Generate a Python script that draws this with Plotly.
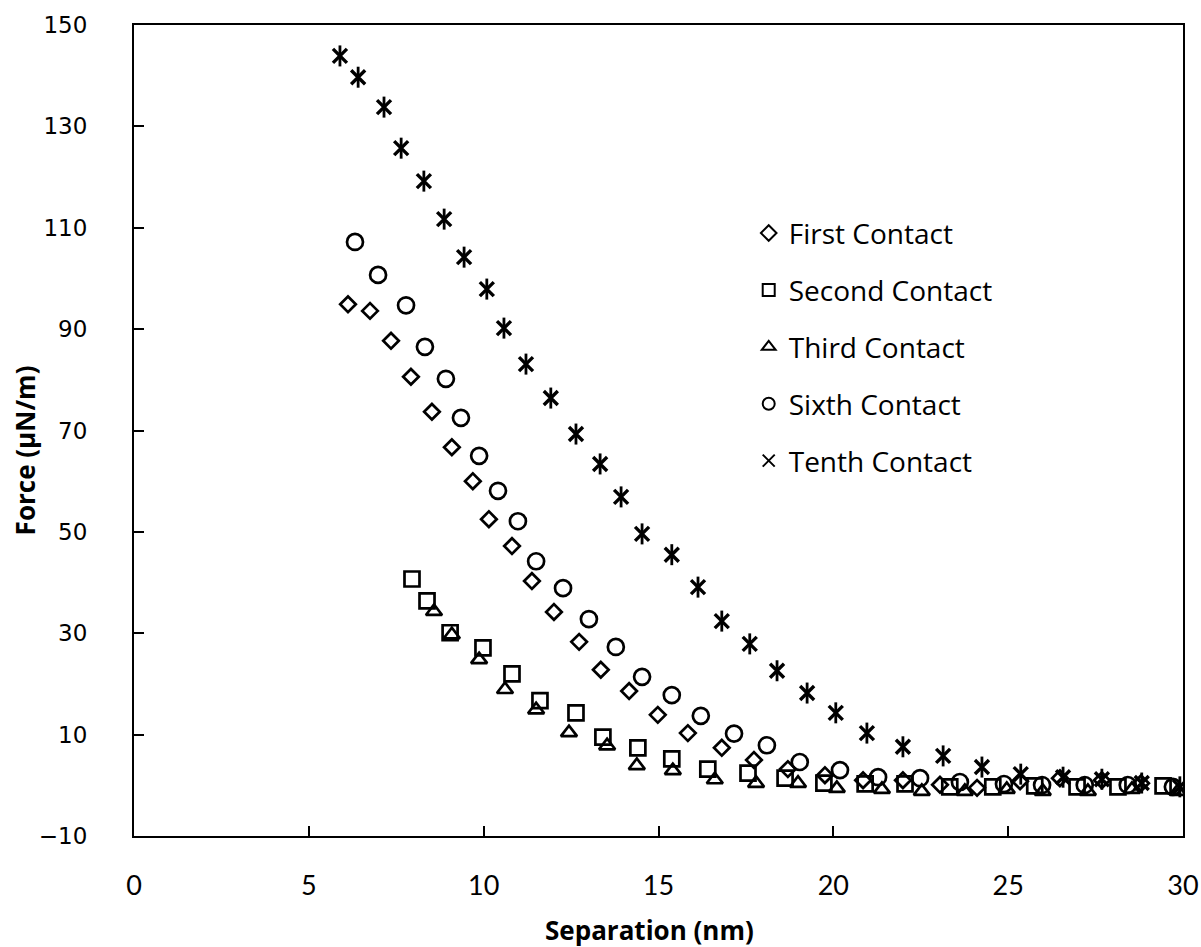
import plotly.graph_objects as go

# ---- data ----
first_x = [6.12, 6.75, 7.35, 7.92, 8.52, 9.09, 9.69, 10.15, 10.81, 11.38, 12.01, 12.73, 13.35, 14.16,
           14.98, 15.84, 16.81, 17.73, 18.70, 19.76, 20.85, 21.99, 23.05, 24.11, 25.34, 26.48, 27.68, 28.80]
first_y = [94.9, 93.6, 87.7, 80.6, 73.7, 66.7, 60.0, 52.5, 47.2, 40.3, 34.2, 28.3, 22.8, 18.6,
           13.9, 10.3, 7.4, 5.0, 3.2, 2.0, 1.0, 1.0, 0.1, -0.5, 0.8, 1.4, 1.0, 0.4]

second_x = [7.95, 8.38, 9.04, 9.98, 10.81, 11.61, 12.64, 13.41, 14.41, 15.38, 16.41, 17.56, 18.62,
            19.73, 20.91, 22.05, 23.33, 24.56, 25.76, 26.97, 28.14, 29.43]
second_y = [40.7, 36.4, 30.1, 27.1, 22.0, 16.7, 14.3, 9.5, 7.4, 5.2, 3.2, 2.4, 1.4,
            0.45, 0.3, 0.3, -0.3, -0.3, -0.1, -0.3, -0.3, -0.1]

third_x = [8.58, 9.09, 9.87, 10.61, 11.50, 12.44, 13.53, 14.38, 15.41, 16.61, 17.79, 18.99, 20.10,
           21.39, 22.53, 23.76, 24.96, 25.99, 27.28, 28.54, 29.85]
third_y = [34.3, 29.7, 24.8, 18.9, 14.9, 10.4, 7.8, 3.9, 2.9, 1.1, 0.4, 0.4, -0.6,
           -0.8, -1.2, -1.2, -0.8, -1.2, -1.2, -0.8, -1.2]

sixth_x = [6.32, 6.98, 7.78, 8.32, 8.92, 9.35, 9.87, 10.41, 10.98, 11.50, 12.27, 13.01, 13.78, 14.53,
           15.38, 16.21, 17.16, 18.10, 19.04, 20.19, 21.28, 22.48, 23.62, 24.88, 25.97, 27.19, 28.42, 29.71]
sixth_y = [107.2, 100.7, 94.7, 86.5, 80.2, 72.5, 65.0, 58.1, 52.1, 44.2, 38.9, 32.8, 27.3, 21.4,
           17.8, 13.7, 10.2, 7.9, 4.6, 3.0, 1.6, 1.4, 0.65, 0.26, 0.06, 0.06, 0.06, -0.3]

tenth_x = [5.89, 6.41, 7.15, 7.64, 8.29, 8.87, 9.44, 10.09, 10.58, 11.21, 11.92, 12.64, 13.33, 13.93,
           14.53, 15.38, 16.13, 16.81, 17.61, 18.39, 19.25, 20.07, 20.96, 21.99, 23.14, 24.25, 25.36,
           26.57, 27.68, 28.82, 29.91]
tenth_y = [143.9, 139.7, 133.8, 125.7, 119.2, 111.7, 104.2, 97.9, 90.2, 83.1, 76.4, 69.3, 63.4, 56.9,
           49.6, 45.5, 39.1, 32.4, 27.9, 22.6, 18.2, 14.3, 10.3, 7.6, 5.8, 3.6, 2.2,
           1.6, 1.2, 0.45, -0.3]

names = ["First Contact", "Second Contact", "Third Contact", "Sixth Contact", "Tenth Contact"]
x_title = "Separation (nm)"
y_title = "Force (µN/m)"

FONT = "Open Sans, sans-serif"
LW = 2.7

fig = go.Figure()

series = [
    (first_x, first_y, "diamond-open", 12),
    (second_x, second_y, "square-open", 15),
    (third_x, third_y, "triangle-up-open", 14),
    (sixth_x, sixth_y, "circle-open", 16),
]
for i, (xs, ys, sym, sz) in enumerate(series):
    fig.add_trace(go.Scatter(
        x=xs, y=ys, mode="markers", name=names[i], legendgroup=names[i],
        marker=dict(symbol=sym, size=sz, color="black", line=dict(color="black", width=LW)),
    ))

# tenth contact: six-armed star (x + vertical bar)
fig.add_trace(go.Scatter(
    x=tenth_x, y=tenth_y, mode="markers", name=names[4], legendgroup=names[4],
    marker=dict(symbol="x-thin-open", size=14, color="black", line=dict(color="black", width=3.4)),
))
fig.add_trace(go.Scatter(
    x=tenth_x, y=tenth_y, mode="markers", name=names[4], legendgroup=names[4], showlegend=False,
    marker=dict(symbol="line-ns-open", size=15, color="black", line=dict(color="black", width=2.8)),
))

axis_common = dict(
    showgrid=False, zeroline=False, showline=True, linecolor="black", linewidth=2,
    mirror=True, ticks="inside", ticklen=10, tickwidth=2, tickcolor="black", automargin=False,
)

fig.update_layout(
    width=1201, height=947,
    margin=dict(l=134, r=18, t=25, b=111, autoexpand=False),
    paper_bgcolor="white", plot_bgcolor="white",
    showlegend=True,
    legend=dict(
        x=0.586, y=0.774, xanchor="left", yanchor="top",
        font=dict(family=FONT, size=28, color="black"),
        bgcolor="rgba(0,0,0,0)", traceorder="grouped", tracegroupgap=17.5,
        itemsizing="constant",
    ),
    xaxis=dict(
        range=[0, 30], tick0=0, dtick=5, **axis_common,
        tickfont=dict(family="Lato, sans-serif", size=27, color="black"),
        ticklabelstandoff=25,
    ),
    yaxis=dict(
        range=[-10, 150], tick0=-10, dtick=20, **axis_common,
        tickfont=dict(family="DejaVu Sans", size=23, color="black"),
        ticklabelstandoff=40,
    ),
    annotations=[
        dict(text="<b>" + x_title + "</b>", xref="paper", yref="paper", x=0.491, y=-0.116,
             xanchor="center", yanchor="middle", showarrow=False,
             font=dict(family=FONT, size=26, color="black")),
        dict(text="<b>" + y_title + "</b>", xref="paper", yref="paper", x=-0.1035, y=0.476,
             xanchor="center", yanchor="middle", showarrow=False, textangle=-90,
             font=dict(family=FONT, size=26, color="black")),
    ],
)

fig.write_html("out.html")
